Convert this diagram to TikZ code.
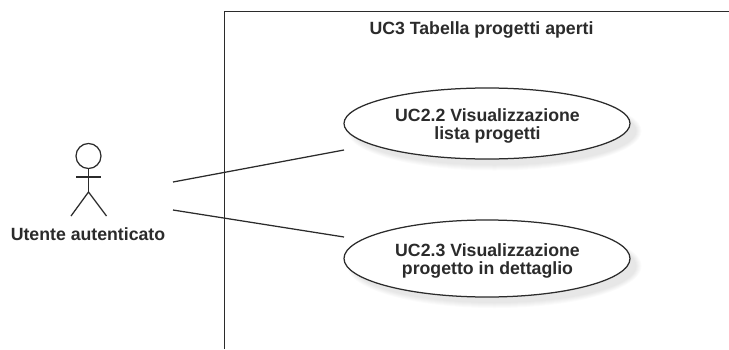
\documentclass[tikz,border=0pt]{standalone}
\usepackage{fontspec}
\setmainfont{Liberation Sans}
\usetikzlibrary{shapes.geometric}
\definecolor{ink}{HTML}{2B2B2B}
\tikzset{
  usecase/.style={ellipse,draw=ink,line width=1.25pt,fill=white,inner sep=0pt,minimum width=286pt},
  label/.style={inner sep=0pt,align=center,font=\fontsize{17.7}{18}\selectfont\bfseries,text=ink},
  stroke/.style={draw=ink,line width=1.25pt},
  soft/.style={fill=black,opacity=0.014,draw=none}
}
\begin{document}
\begin{tikzpicture}[x=1pt,y=-1pt]
\useasboundingbox (0,0) rectangle (729,349);
\fill[white] (0,0) rectangle (729,349);
% frame
\coordinate (fbl) at (224.2,349);
\coordinate (ftl) at (224.2,11.5);
\coordinate (ftr) at (729,11.5);
\draw[stroke] (fbl) -- (ftl) -- (ftr);
\node[label] (title) at (481.5,30.2) {UC3 Tabella progetti aperti};
% shadows
\foreach \g in {0,1,2,3,4,5}{
  \fill[soft] (494.5,131) ellipse ({147-\g} and {39.5-\g});
  \fill[soft] (494.5,266) ellipse ({147-\g} and {42-\g});
}
% use cases
\node[usecase,minimum height=71pt] (uc22) at (487,123.5) {};
\node[label] (uc22text) at (487.5,126) {UC2.2 Visualizzazione\\lista progetti};
\node[usecase,minimum height=77pt] (uc23) at (487,258.5) {};
\node[label] (uc23text) at (487.5,260.5) {UC2.3 Visualizzazione\\progetto in dettaglio};
% actor
\node[circle,stroke,minimum size=25pt,inner sep=0pt] (head) at (88.5,156) {};
\coordinate (hip) at (88.5,192);
\coordinate (armL) at (76,177);
\coordinate (armR) at (101,177);
\coordinate (legL) at (71,216);
\coordinate (legR) at (106.5,216);
\draw[stroke] (head.south) -- (hip);
\draw[stroke] (armL) -- (armR);
\draw[stroke] (legL) -- (hip) -- (legR);
\node[label] (actor) at (88,234.5) {Utente autenticato};
% connectors
\coordinate (a1) at (173,182);
\coordinate (e1) at (344,150);
\coordinate (a2) at (173,210);
\coordinate (e2) at (344,237);
\draw[stroke] (a1) -- (e1);
\draw[stroke] (a2) -- (e2);
\end{tikzpicture}
\end{document}
